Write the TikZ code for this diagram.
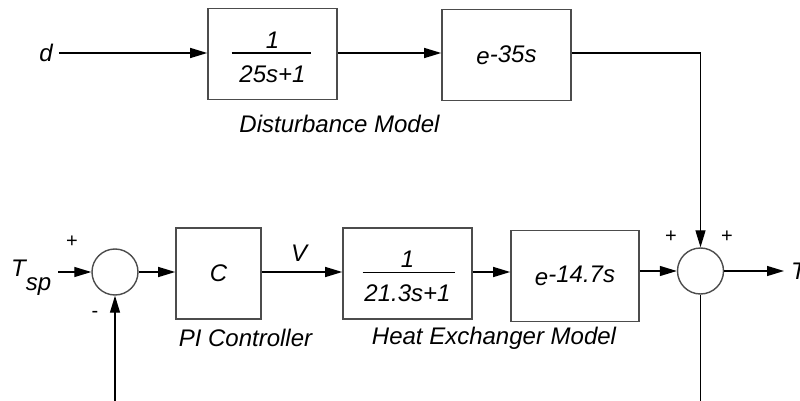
\documentclass[tikz,border=0pt]{standalone}
\usepackage{fontspec}
\setmainfont{Liberation Sans}
\usetikzlibrary{arrows.meta,calc}
\begin{document}
\begin{tikzpicture}[x=1pt,y=-1pt,
  every node/.style={font=\fontsize{24}{28}\selectfont\itshape, inner sep=0pt},
  blk/.style={draw=black!70, line width=1.6pt, minimum height=91pt},
  sumc/.style={circle, draw=black!70, line width=1.4pt, minimum size=46pt},
  conn/.style={line width=1.3pt, -{Triangle[length=17pt,width=10pt]}},
  wire/.style={line width=1.3pt},
  sgn/.style={font=\fontsize{20}{24}\selectfont}]
\useasboundingbox (0,0) rectangle (800,401);
\clip (0,0) rectangle (800,401);
% top row
\node[inner xsep=6pt] (d) at (46,53) {d};
\node[blk, minimum width=129pt] (dm) at (272.5,54) {};
\node (dm1) at ($(dm.center)+(0,-14)$) {1};
\node (dm2) at ($(dm.center)+(0,20)$) {25s+1};
\draw[wire] ($(dm.center)+(-41,-1)$) -- ($(dm.center)+(38,-1)$);
\node[blk, minimum width=129pt] (dl) at (506.5,55) {e\raisebox{2pt}{-35s}};
\node (dlab) at (339.5,124) {Disturbance Model};
% bottom row
\node[anchor=base west] (tsp) at (11,276) {T\raisebox{-14pt}{sp}};
\node[sumc] (s1) at (115,272) {};
\node[sgn] (p1) at (72,242) {+};
\node[sgn] (m1) at (95,314) {-};
\node[blk, minimum width=85pt] (c) at (218.5,273.5) {C};
\node (clab) at (245.5,338) {PI Controller};
\node (v) at (299,253) {V};
\node[blk, minimum width=129pt] (hx) at (407.5,273.5) {};
\node (hx1) at ($(hx.center)+(0,-14)$) {1};
\node (hx2) at ($(hx.center)+(0,20)$) {21.3s+1};
\draw[wire] ($(hx.center)+(-45,-1)$) -- ($(hx.center)+(47,-1)$);
\node[blk, minimum width=128pt] (hd) at (575,276) {e\raisebox{3pt}{-14.7s}};
\node (hlab) at (494,338) {Heat Exchanger Model};
\node[sumc] (s2) at (700.5,271) {};
\node[sgn] (p2) at (671,237) {+};
\node[sgn] (p3) at (727,237) {+};
\node[anchor=west] (t) at (791,271) {T};
\coordinate (fb1) at (115,410);
\coordinate (fb2) at (700.5,410);
% connectors
\draw[conn] (d.east) -- (dm.west |- d.east);
\draw[conn] (dm.east |- d.east) -- (dl.west |- d.east);
\draw[conn] (dl.east |- d.east) -| (s2.north);
\draw[conn] (58,272) -- (s1.west);
\draw[conn] (s1.east) -- (c.west |- s1.east);
\draw[conn] (c.east |- s1.east) -- (hx.west |- s1.east);
\draw[conn] (hx.east |- s1.east) -- (hd.west |- s1.east);
\draw[conn] (hd.east |- s2.west) -- (s2.west);
\draw[conn] (s2.east) -- (784,271);
\draw[conn] (fb1) -- (s1.south);
\draw[wire] (s2.south) -- (fb2);
\end{tikzpicture}
\end{document}
